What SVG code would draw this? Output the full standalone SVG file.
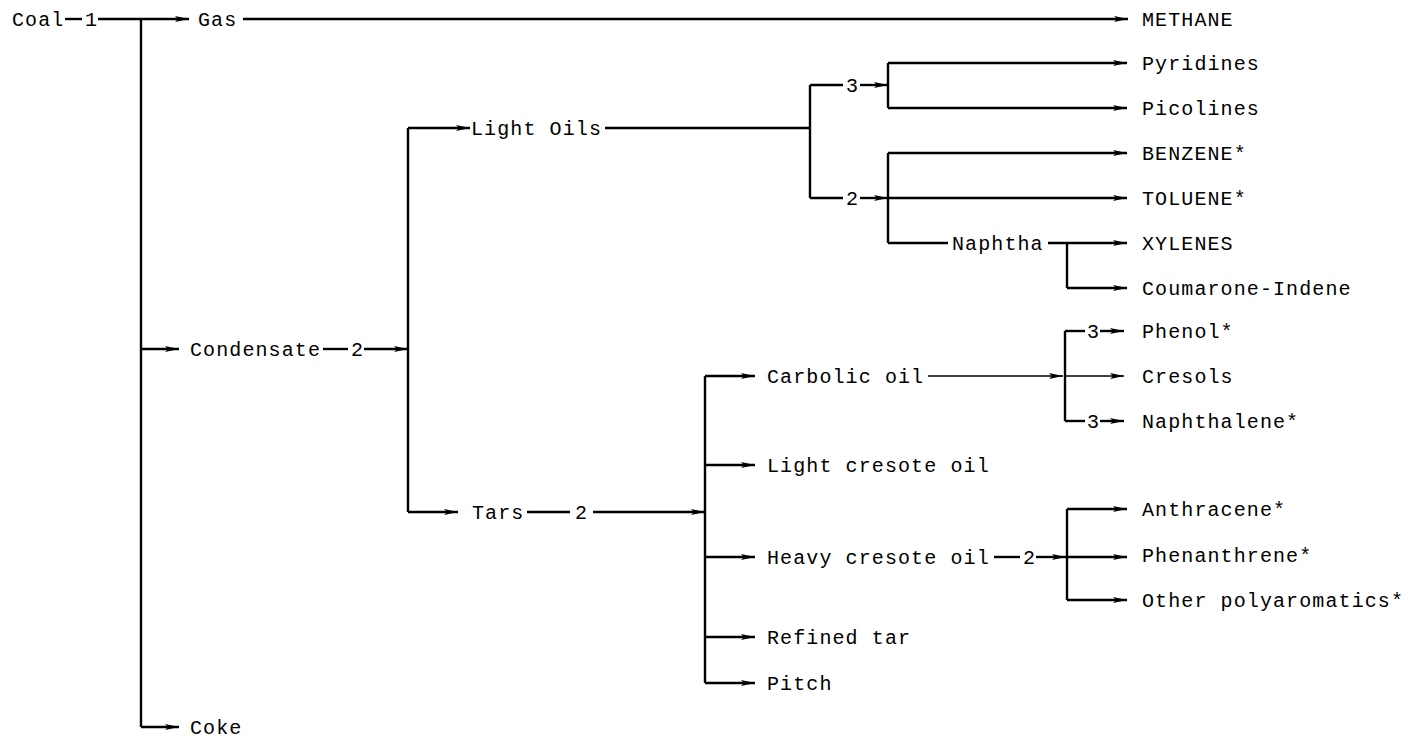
<svg xmlns="http://www.w3.org/2000/svg" width="1414" height="742" viewBox="0 0 1414 742">
<defs>
<style>
text{font-family:"Liberation Mono","Courier New","DejaVu Sans Mono",monospace;font-size:20px;letter-spacing:1.1px;fill:#000}
.c line{stroke:#000;stroke-width:2.4;fill:none}
.c line.t{stroke-width:1.4}
.a{marker-end:url(#ah)}
</style>
<marker id="ah" markerUnits="userSpaceOnUse" markerWidth="15" markerHeight="8" refX="14" refY="4" orient="auto" viewBox="0 0 15 8">
<path d="M0,1 L14,4 L0,7 L3,4 z" fill="#000"/>
</marker>
</defs>
<rect width="1414" height="742" fill="#fff"/>
<g id="connectors" class="c">
<line x1="65" y1="19" x2="82" y2="19"/>
<line class="a" x1="98" y1="19" x2="189" y2="19"/>
<line x1="141" y1="19" x2="141" y2="727"/>
<line class="a" x1="243" y1="19" x2="1128" y2="19"/>
<line class="a" x1="141" y1="349" x2="179" y2="349"/>
<line x1="323" y1="349" x2="348" y2="349"/>
<line class="a" x1="364" y1="349" x2="408" y2="349"/>
<line class="a" x1="141" y1="727" x2="179" y2="727"/>
<line x1="408" y1="128" x2="408" y2="512"/>
<line class="a" x1="408" y1="128" x2="470" y2="128"/>
<line x1="605" y1="128" x2="810" y2="128"/>
<line x1="810" y1="85" x2="810" y2="198"/>
<line x1="810" y1="85" x2="843" y2="85"/>
<line class="a" x1="860" y1="85" x2="888" y2="85"/>
<line x1="888" y1="63" x2="888" y2="108"/>
<line class="a" x1="888" y1="63" x2="1127" y2="63"/>
<line class="a" x1="888" y1="108" x2="1127" y2="108"/>
<line x1="810" y1="198" x2="843" y2="198"/>
<line class="a" x1="860" y1="198" x2="888" y2="198"/>
<line x1="888" y1="153" x2="888" y2="243"/>
<line class="a" x1="888" y1="153" x2="1127" y2="153"/>
<line class="a" x1="888" y1="198" x2="1127" y2="198"/>
<line x1="888" y1="243" x2="948" y2="243"/>
<line class="a" x1="1048" y1="243" x2="1127" y2="243"/>
<line x1="1067" y1="243" x2="1067" y2="288"/>
<line class="a" x1="1067" y1="288" x2="1127" y2="288"/>
<line class="a" x1="408" y1="512" x2="458" y2="512"/>
<line x1="527" y1="512" x2="570" y2="512"/>
<line class="a" x1="593" y1="512" x2="705" y2="512"/>
<line x1="705" y1="376" x2="705" y2="683"/>
<line class="a" x1="705" y1="376" x2="755" y2="376"/>
<line class="a" x1="705" y1="465" x2="755" y2="465"/>
<line class="a" x1="705" y1="557" x2="755" y2="557"/>
<line class="a" x1="705" y1="637" x2="755" y2="637"/>
<line class="a" x1="705" y1="683" x2="755" y2="683"/>
<line class="t a" x1="928" y1="376" x2="1063" y2="376"/>
<line class="t a" x1="1065" y1="376" x2="1124" y2="376"/>
<line x1="1065" y1="331" x2="1065" y2="421"/>
<line x1="1065" y1="331" x2="1085" y2="331"/>
<line class="a" x1="1100" y1="331" x2="1124" y2="331"/>
<line x1="1065" y1="421" x2="1085" y2="421"/>
<line class="a" x1="1100" y1="421" x2="1124" y2="421"/>
<line x1="994" y1="557" x2="1020" y2="557"/>
<line class="a" x1="1036" y1="557" x2="1066" y2="557"/>
<line x1="1067" y1="509" x2="1067" y2="600"/>
<line class="a" x1="1067" y1="509" x2="1127" y2="509"/>
<line class="a" x1="1067" y1="557" x2="1127" y2="557"/>
<line class="a" x1="1067" y1="600" x2="1127" y2="600"/>
</g>
<g id="coal"><text x="12" y="26">Coal</text><text x="85" y="26">1</text></g>
<g id="gas"><text x="198" y="26">Gas</text></g>
<g id="methane"><text x="1142" y="26">METHANE</text></g>
<g id="condensate"><text x="190" y="356">Condensate</text><text x="351" y="356">2</text></g>
<g id="coke"><text x="190" y="734">Coke</text></g>
<g id="light-oils"><text x="471" y="135">Light Oils</text></g>
<g id="lo-3"><text x="846" y="92">3</text></g>
<g id="lo-2"><text x="846" y="205">2</text></g>
<g id="pyridines"><text x="1142" y="70">Pyridines</text></g>
<g id="picolines"><text x="1142" y="115">Picolines</text></g>
<g id="benzene"><text x="1142" y="160">BENZENE*</text></g>
<g id="toluene"><text x="1142" y="205">TOLUENE*</text></g>
<g id="naphtha"><text x="952" y="250">Naphtha</text></g>
<g id="xylenes"><text x="1142" y="250">XYLENES</text></g>
<g id="coumarone"><text x="1142" y="295">Coumarone-Indene</text></g>
<g id="tars"><text x="472" y="519">Tars</text><text x="575" y="519">2</text></g>
<g id="carbolic"><text x="767" y="383">Carbolic oil</text></g>
<g id="light-cresote"><text x="767" y="472">Light cresote oil</text></g>
<g id="heavy-cresote"><text x="767" y="564">Heavy cresote oil</text><text x="1023" y="564">2</text></g>
<g id="refined-tar"><text x="767" y="644">Refined tar</text></g>
<g id="pitch"><text x="767" y="690">Pitch</text></g>
<g id="phenol"><text x="1087" y="338">3</text><text x="1142" y="338">Phenol*</text></g>
<g id="cresols"><text x="1142" y="383">Cresols</text></g>
<g id="naphthalene"><text x="1087" y="428">3</text><text x="1142" y="428">Naphthalene*</text></g>
<g id="anthracene"><text x="1142" y="516">Anthracene*</text></g>
<g id="phenanthrene"><text x="1142" y="562">Phenanthrene*</text></g>
<g id="polyaromatics"><text x="1142" y="607">Other polyaromatics*</text></g>
</svg>
